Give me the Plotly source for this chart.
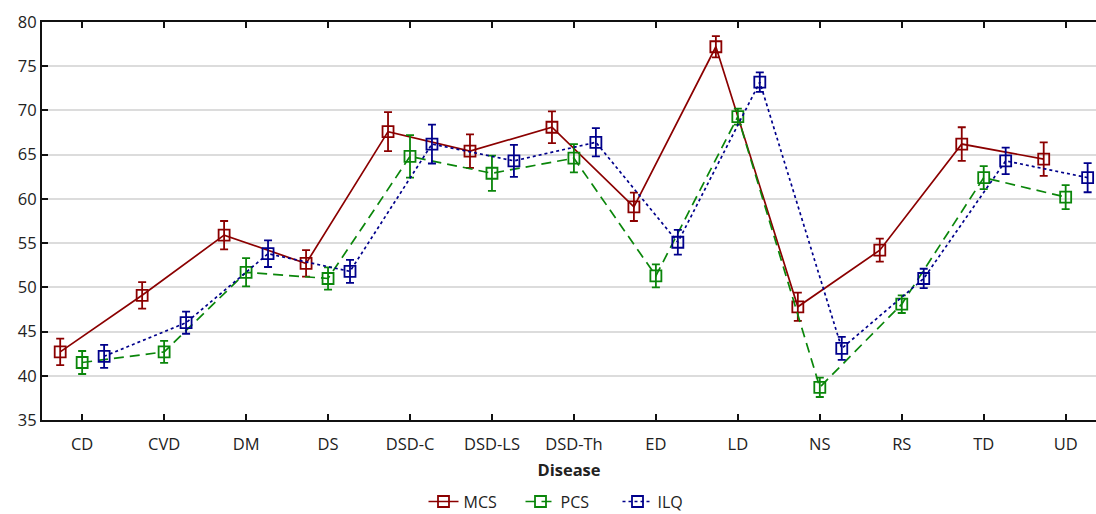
import plotly.graph_objects as go

# Disease groups on the x axis
categories = ["CD", "CVD", "DM", "DS", "DSD-C", "DSD-LS", "DSD-Th",
              "ED", "LD", "NS", "RS", "TD", "UD"]

# Group means and error-bar half-widths per score
mcs_mean = [42.7, 49.1, 55.9, 52.7, 67.6, 65.4, 68.1, 59.1, 77.2, 47.8, 54.2, 66.2, 64.5]
mcs_err = [1.5, 1.5, 1.6, 1.5, 2.2, 1.9, 1.8, 1.6, 1.2, 1.6, 1.3, 1.9, 1.9]

pcs_mean = [41.5, 42.7, 51.7, 51.0, 64.8, 62.9, 64.6, 51.3, 69.3, 38.7, 48.1, 62.4, 60.2]
pcs_err = [1.3, 1.25, 1.6, 1.25, 2.4, 2.0, 1.6, 1.3, 0.9, 1.1, 1.0, 1.3, 1.35]

ilq_mean = [42.2, 46.0, 53.8, 51.8, 66.2, 64.3, 66.4, 55.1, 73.2, 43.1, 51.0, 64.3, 62.4]
ilq_err = [1.3, 1.25, 1.5, 1.3, 2.2, 1.8, 1.6, 1.4, 1.1, 1.3, 1.1, 1.5, 1.65]

y_ticks = [35, 40, 45, 50, 55, 60, 65, 70, 75, 80]

FONT = "Open Sans"
shift = 0.268  # horizontal dodge between the three scores

series = [
    ("MCS", mcs_mean, mcs_err, -shift, "#8b0000", "solid"),
    ("PCS", pcs_mean, pcs_err, 0.0, "#0a860a", "10px,6px"),
    ("ILQ", ilq_mean, ilq_err, shift, "#00008b", "3px,3px"),
]

fig = go.Figure()
for name, mean, err, dx, color, dash in series:
    xs = [i + dx for i in range(len(categories))]
    fig.add_trace(go.Scatter(
        x=xs, y=mean, name=name, mode="lines+markers",
        line=dict(color=color, width=1.7, dash=dash),
        marker=dict(symbol="square-open", size=11, color=color,
                    line=dict(width=1.8, color=color)),
        error_y=dict(type="data", array=err, visible=True,
                     color=color, thickness=1.8, width=4),
    ))

fig.update_layout(
    width=1096, height=514,
    margin=dict(l=42, r=0, t=22, b=94, autoexpand=False),
    paper_bgcolor="white", plot_bgcolor="white",
    font=dict(family=FONT, size=16, color="#222222"),
    showlegend=True,
    legend=dict(orientation="h", x=0.5, xanchor="center",
                y=-0.205, yanchor="middle",
                font=dict(size=16, family=FONT, color="#222222"),
                entrywidth=52, entrywidthmode="pixels",
                itemwidth=30, tracegroupgap=0),
)

fig.update_xaxes(
    range=[-0.49, 12.37], automargin=False,
    tickmode="array", tickvals=list(range(len(categories))), ticktext=categories,
    showgrid=False, zeroline=False,
    showline=True, linecolor="#111111", linewidth=2, mirror="ticks",
    ticks="inside", ticklen=6, tickwidth=2, tickcolor="#111111",
    ticklabelstandoff=8,
    tickfont=dict(size=16.5, family=FONT, color="#222222"),
    title=dict(text="<b>Disease</b>", standoff=11,
               font=dict(size=16.5, family=FONT, color="#222222")),
)

fig.update_yaxes(
    range=[35, 80], tickvals=y_ticks, automargin=False,
    showgrid=True, gridcolor="#dcdcdc", gridwidth=1.5,
    zeroline=False, showline=True, linecolor="#111111", linewidth=2,
    ticks="inside", ticklen=6, tickwidth=2, tickcolor="#111111",
    tickfont=dict(size=16.5, family=FONT, color="#222222"),
)

fig.write_html("out.html")
